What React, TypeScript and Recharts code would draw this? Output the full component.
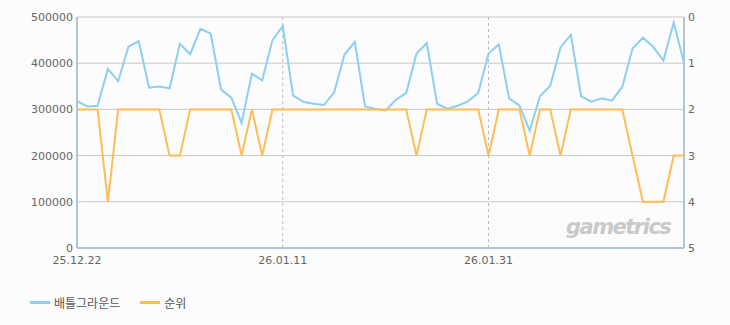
import React from 'react'
import { LineChart, Line, XAxis, YAxis, CartesianGrid } from 'recharts'

const dates = [
  '25.12.22', '25.12.23', '25.12.24', '25.12.25', '25.12.26', '25.12.27', '25.12.28', '25.12.29', '25.12.30', '25.12.31',
  '26.01.01', '26.01.02', '26.01.03', '26.01.04', '26.01.05', '26.01.06', '26.01.07', '26.01.08', '26.01.09', '26.01.10',
  '26.01.11', '26.01.12', '26.01.13', '26.01.14', '26.01.15', '26.01.16', '26.01.17', '26.01.18', '26.01.19', '26.01.20',
  '26.01.21', '26.01.22', '26.01.23', '26.01.24', '26.01.25', '26.01.26', '26.01.27', '26.01.28', '26.01.29', '26.01.30',
  '26.01.31', '26.02.01', '26.02.02', '26.02.03', '26.02.04', '26.02.05', '26.02.06', '26.02.07', '26.02.08', '26.02.09',
  '26.02.10', '26.02.11', '26.02.12', '26.02.13', '26.02.14', '26.02.15', '26.02.16', '26.02.17', '26.02.18', '26.02.19',
]

// 배틀그라운드 value (left axis)
const pubg = [
  318000, 306500, 308000, 387700, 360900, 435500, 447800, 347100, 349300, 345700,
  442000, 419600, 474600, 463800, 342800, 325400, 270300, 377500, 363000, 450000,
  480400, 329700, 316700, 312300, 309400, 337000, 418800, 446400, 306500, 300700,
  297800, 321000, 335500, 421000, 443500, 312300, 301400, 308000, 317400, 335500,
  421000, 440600, 323900, 308700, 254000, 328300, 351400, 434000, 461600, 328300,
  316700, 323900, 318800, 348600, 431900, 455100, 435500, 405800, 487700, 400700,
]

// 순위 (right axis, reversed)
const rank = [
  2, 2, 2, 4, 2, 2, 2, 2, 2, 3,
  3, 2, 2, 2, 2, 2, 3, 2, 3, 2,
  2, 2, 2, 2, 2, 2, 2, 2, 2, 2,
  2, 2, 2, 3, 2, 2, 2, 2, 2, 2,
  3, 2, 2, 2, 3, 2, 2, 3, 2, 2,
  2, 2, 2, 2, 3, 4, 4, 4, 3, 3,
]

const xTicks = ['25.12.22', '26.01.11', '26.01.31']
const leftTicks = [0, 100000, 200000, 300000, 400000, 500000]
const rightTicks = [0, 1, 2, 3, 4, 5]

const series = [
  { key: 'pubg', name: '배틀그라운드', color: '#8ccff0', axis: 'left' },
  { key: 'rank', name: '순위', color: '#ffbb55', axis: 'right' },
]

const data = dates.map((d, i) => ({ date: d, pubg: pubg[i], rank: rank[i] }))

const tickStyle = { fontSize: 11, fill: '#666', fontFamily: 'DejaVu Sans, sans-serif' }
const borderColor = '#b2c5d8'

export default function App() {
  return (
    <div style={{ position: 'absolute', left: 0, top: 0, width: 730, height: 325, background: '#fcfcfc' }}>
      <LineChart width={730} height={325} data={data} margin={{ top: 17, right: 0, bottom: 57, left: 0 }}>
        <CartesianGrid yAxisId="left" horizontal={true} vertical={false} stroke="#c8c8c8" />
        <CartesianGrid yAxisId="left" horizontal={false} vertical={true} stroke="#bbb" strokeDasharray="3 3" />
        <XAxis
          dataKey="date"
          ticks={xTicks}
          interval={0}
          height={20}
          tick={tickStyle}
          tickLine={false}
          tickSize={0}
          tickMargin={8}
          axisLine={{ stroke: borderColor, strokeWidth: 2 }}
        />
        <XAxis xAxisId="top" dataKey="date" orientation="top" height={0} tick={false} tickLine={false}
          axisLine={{ stroke: borderColor, strokeWidth: 2 }} />
        <YAxis
          yAxisId="left"
          width={77}
          domain={[0, 500000]}
          ticks={leftTicks}
          tick={tickStyle}
          tickLine={false}
          tickSize={0}
          tickMargin={4}
          axisLine={{ stroke: borderColor, strokeWidth: 2 }}
        />
        <YAxis
          yAxisId="right"
          orientation="right"
          width={46}
          reversed
          domain={[0, 5]}
          ticks={rightTicks}
          tick={tickStyle}
          tickLine={false}
          tickSize={0}
          tickMargin={4}
          axisLine={{ stroke: borderColor, strokeWidth: 2 }}
        />
        {series.map(s => (
          <Line
            key={s.key}
            yAxisId={s.axis}
            type="linear"
            dataKey={s.key}
            name={s.name}
            stroke={s.color}
            strokeWidth={2}
            dot={false}
            activeDot={false}
            isAnimationActive={false}
          />
        ))}
      </LineChart>
      <div
        style={{
          position: 'absolute', left: 566, top: 215, fontSize: 21, fontWeight: 'bold', fontStyle: 'italic',
          color: '#c9c9c9', fontFamily: 'DejaVu Sans, sans-serif', letterSpacing: -1.5,
        }}
      >
        gametrics
      </div>
      <div style={{ position: 'absolute', left: 30, top: 294, display: 'flex', alignItems: 'center' }}>
        {series.map(s => (
          <div key={s.key} style={{ display: 'flex', alignItems: 'center', marginRight: 20 }}>
            <span style={{ display: 'inline-block', width: 20, height: 3, background: s.color, marginRight: 4 }} />
            <span style={{ fontSize: 12, color: '#555', fontFamily: 'Noto Sans CJK KR, sans-serif' }}>{s.name}</span>
          </div>
        ))}
      </div>
    </div>
  )
}
